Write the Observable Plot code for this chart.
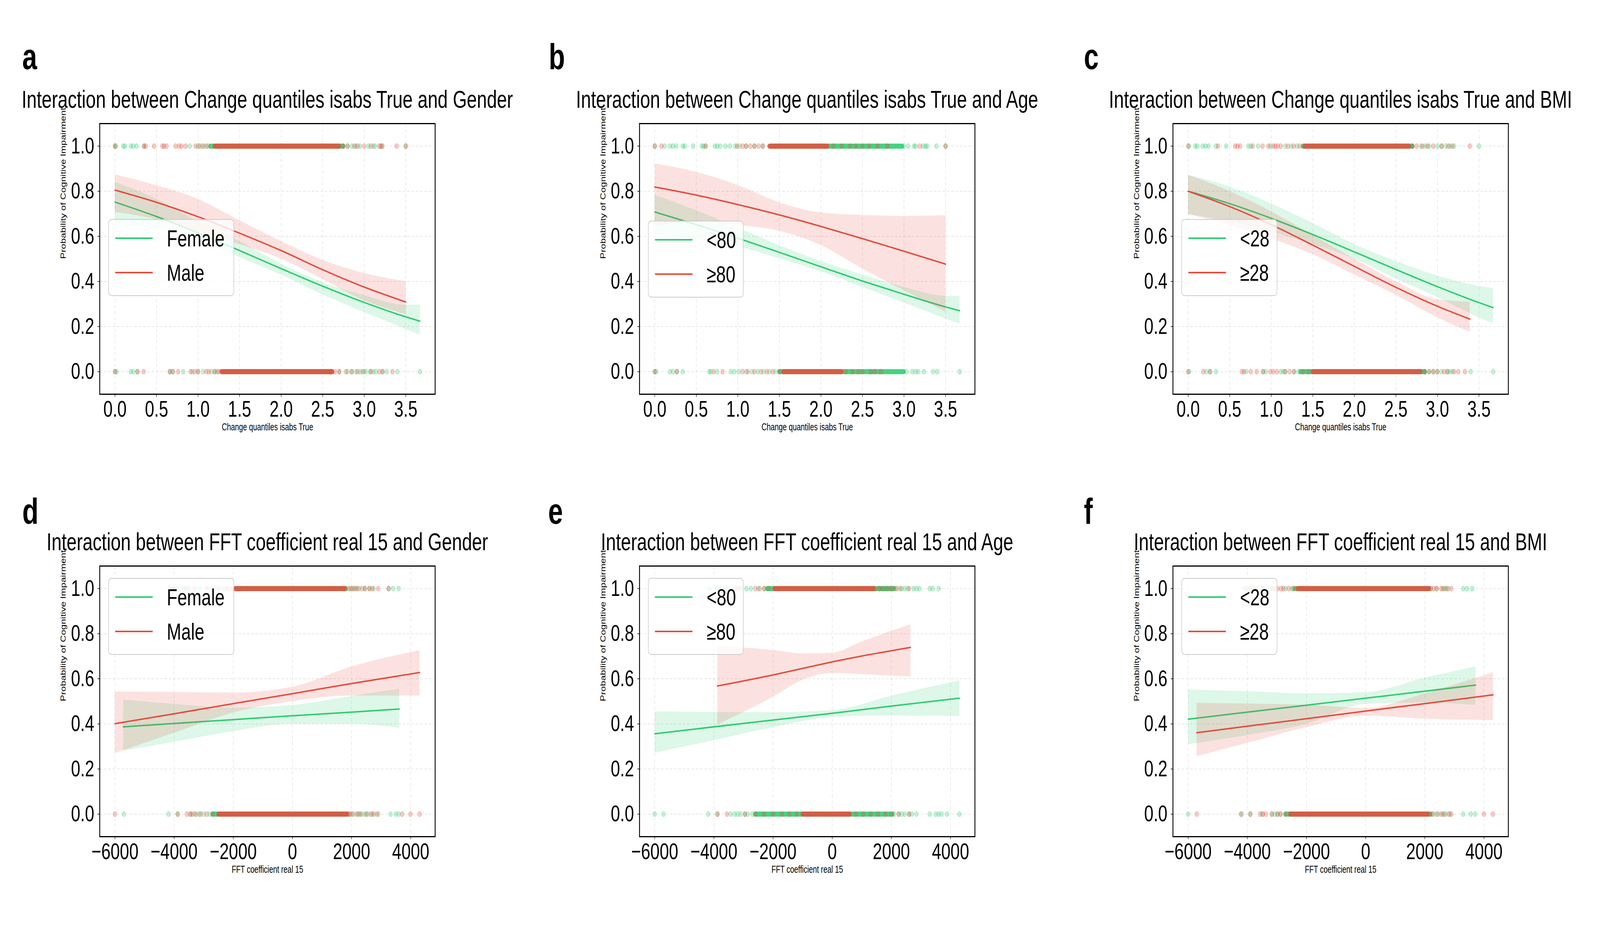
<!DOCTYPE html>
<html><head><meta charset="utf-8">
<script src="https://cdn.jsdelivr.net/npm/d3@7"></script>
<script src="https://cdn.jsdelivr.net/npm/@observablehq/plot@0.6"></script>
<style>
html,body{margin:0;padding:0;background:#fff;overflow:hidden;}
#wrap{position:relative;overflow:hidden;background:#fff;}
#fig{position:absolute;left:0;top:0;width:5543px;height:2402px;overflow:hidden;background:#fff;font-family:"Liberation Sans",Arial,Helvetica,sans-serif;transform-origin:0 0;}
#fig svg.panel{position:absolute;overflow:visible;}
#overlay{position:absolute;left:0;top:0;pointer-events:none;}
</style></head>
<body><div id="wrap"><div id="fig"></div></div>
<script>
// ================= DATA =================
const yTicks = [0, 0.2, 0.4, 0.6, 0.8, 1.0];
const changeTicks = [0, 0.5, 1.0, 1.5, 2.0, 2.5, 3.0, 3.5];
const fftTicks = [-6000, -4000, -2000, 0, 2000, 4000];
const panelLetters = ["a", "b", "c", "d", "e", "f"];
const panelTitles = [
  "Interaction between Change quantiles isabs True and Gender",
  "Interaction between Change quantiles isabs True and Age",
  "Interaction between Change quantiles isabs True and BMI",
  "Interaction between FFT coefficient real 15 and Gender",
  "Interaction between FFT coefficient real 15 and Age",
  "Interaction between FFT coefficient real 15 and BMI"
];
const xAxisLabels = ["Change quantiles isabs True", "FFT coefficient real 15"];
const yAxisLabel = "Probability of Cognitive Impairment";
const genderLabels = ["Female", "Male"];
const ageLabels = ["<80", "\u226580"];
const bmiLabels = ["<28", "\u226528"];

// ---- a: Change quantiles × Gender ----
const a_g_x   = [0, 0.5, 1.0, 1.5, 2.0, 2.5, 3.0, 3.5, 3.67];
const a_g_fit = [0.752, 0.688, 0.615, 0.537, 0.457, 0.379, 0.307, 0.243, 0.224];
const a_g_lo  = [0.647, 0.635, 0.585, 0.507, 0.429, 0.342, 0.263, 0.189, 0.164];
const a_g_hi  = [0.841, 0.765, 0.665, 0.578, 0.478, 0.396, 0.338, 0.296, 0.296];
const a_r_x   = [0, 0.5, 1.0, 1.5, 2.0, 2.5, 3.0, 3.5];
const a_r_fit = [0.805, 0.751, 0.687, 0.614, 0.537, 0.452, 0.375, 0.309];
const a_r_lo  = [0.708, 0.675, 0.62, 0.565, 0.50, 0.41, 0.315, 0.255];
const a_r_hi  = [0.874, 0.826, 0.765, 0.67, 0.578, 0.495, 0.437, 0.40];
const a_g_dots1 = [0, 0.01, 0.1, 0.12, 0.19, 0.22, 0.26, 0.35, 0.9, 1.0, 1.05, 1.1, 2.8, 2.85, 2.9, 2.95, 3.05, 3.11, 3.13, 3.21, 3.5];
const a_g_core1 = [1.15, 2.75];
const a_r_dots1 = [0, 0.35, 0.37, 0.47, 0.57, 0.59, 0.62, 0.73, 0.77, 0.8, 0.85, 0.97, 1.02, 1.07, 1.12, 2.75, 2.8, 2.88, 2.92, 3.0, 3.08, 3.18, 3.2, 3.22, 3.39, 3.5];
const a_r_core1 = [1.2, 2.7];
const a_g_dots0 = [0, 0.02, 0.19, 0.22, 0.27, 0.66, 0.69, 0.82, 0.93, 1.0, 1.06, 1.16, 1.2, 1.25, 2.6, 2.7, 2.8, 2.85, 2.9, 2.95, 3.0, 3.02, 3.07, 3.11, 3.14, 3.22, 3.27, 3.4, 3.67];
const a_g_core0 = [1.3, 2.6];
const a_r_dots0 = [0, 0.27, 0.345, 0.66, 0.7, 0.76, 0.91, 0.96, 1.0, 1.1, 1.13, 1.2, 1.23, 2.6, 2.65, 2.7, 2.78, 2.85, 2.92, 2.98, 3.08, 3.18, 3.22, 3.34];
const a_r_core0 = [1.28, 2.62];

// ---- b: Change quantiles × Age ----
const b_g_x   = [0, 0.5, 1.0, 1.5, 2.0, 2.5, 3.0, 3.5, 3.67];
const b_g_fit = [0.708, 0.652, 0.592, 0.529, 0.465, 0.402, 0.343, 0.287, 0.270];
const b_g_lo  = [0.61, 0.585, 0.555, 0.502, 0.444, 0.375, 0.305, 0.235, 0.212];
const b_g_hi  = [0.784, 0.715, 0.638, 0.56, 0.49, 0.43, 0.375, 0.335, 0.334];
const b_r_x   = [0, 0.5, 1.0, 1.5, 2.0, 2.5, 3.0, 3.5];
const b_r_fit = [0.819, 0.783, 0.741, 0.695, 0.644, 0.59, 0.534, 0.477];
const b_r_lo  = [0.647, 0.665, 0.65, 0.624, 0.56, 0.456, 0.36, 0.265];
const b_r_hi  = [0.922, 0.885, 0.827, 0.75, 0.705, 0.694, 0.69, 0.693];
const b_g_dots1 = [0, 0.117, 0.184, 0.22, 0.259, 0.337, 0.362, 0.461, 0.567, 0.585, 0.613, 0.723, 0.752, 0.787, 0.851, 0.904, 0.968, 1.02, 1.1, 1.2, 1.3, 3.0, 3.05, 3.12, 3.14, 3.23, 3.26, 3.28, 3.39, 3.5];
const b_g_core1 = [1.4, 2.98];
const b_r_dots1 = [0, 0.08, 0.613, 0.99, 1.057, 1.099, 1.15, 1.2, 1.25, 1.3, 2.15, 2.25, 2.35, 2.42, 2.5, 2.58, 2.68, 2.8, 3.19, 3.5];
const b_r_core1 = [1.38, 2.08];
const b_g_dots0 = [0, 0.018, 0.184, 0.22, 0.266, 0.337, 0.656, 0.674, 0.752, 0.915, 0.957, 1.01, 1.1, 1.17, 1.24, 1.31, 1.38, 1.45, 3.03, 3.1, 3.14, 3.17, 3.24, 3.35, 3.4, 3.67];
const b_g_core0 = [1.5, 3.0];
const b_r_dots0 = [0, 0.266, 0.709, 0.816, 1.057, 1.12, 1.2, 1.28, 1.35, 1.42, 1.5, 2.3, 2.38, 2.45, 2.5, 2.6, 2.65, 2.72];
const b_r_core0 = [1.55, 2.25];

// ---- c: Change quantiles × BMI ----
const c_g_x   = [0, 0.5, 1.0, 1.5, 2.0, 2.5, 3.0, 3.5, 3.67];
const c_g_fit = [0.80, 0.745, 0.680, 0.608, 0.531, 0.453, 0.377, 0.306, 0.284];
const c_g_lo  = [0.698, 0.665, 0.62, 0.565, 0.50, 0.412, 0.33, 0.24, 0.215];
const c_g_hi  = [0.872, 0.82, 0.745, 0.658, 0.565, 0.49, 0.425, 0.38, 0.37];
const c_r_x   = [0, 0.5, 1.0, 1.5, 2.0, 2.5, 3.0, 3.39];
const c_r_fit = [0.80, 0.732, 0.652, 0.561, 0.467, 0.374, 0.290, 0.233];
const c_r_lo  = [0.698, 0.65, 0.59, 0.52, 0.43, 0.34, 0.24, 0.176];
const c_r_hi  = [0.872, 0.80, 0.71, 0.605, 0.50, 0.40, 0.32, 0.31];
const c_g_dots1 = [0.01, 0.085, 0.11, 0.174, 0.209, 0.245, 0.334, 0.458, 0.724, 0.753, 0.841, 0.99, 1.168, 1.24, 1.31, 2.7, 2.8, 2.85, 2.9, 3.0, 3.05, 3.1, 3.15, 3.2, 3.5];
const c_g_core1 = [1.38, 2.7];
const c_r_dots1 = [0, 0.359, 0.564, 0.593, 0.625, 0.777, 0.895, 0.966, 1.026, 1.05, 1.08, 1.115, 1.2, 1.27, 1.34, 2.7, 2.75, 2.82, 2.88, 2.95, 3.05, 3.13, 3.18, 3.39];
const c_r_core1 = [1.4, 2.66];
const c_g_dots0 = [0.01, 0.217, 0.263, 0.334, 0.699, 0.902, 0.937, 1.115, 1.14, 1.168, 1.274, 1.328, 2.85, 2.9, 2.95, 3.0, 3.05, 3.12, 3.15, 3.18, 3.4, 3.67];
const c_g_core0 = [1.35, 2.85];
const c_r_dots0 = [0, 0.181, 0.263, 0.646, 0.671, 0.753, 0.824, 0.902, 0.99, 1.026, 1.069, 1.168, 1.221, 1.274, 1.38, 1.45, 2.85, 2.9, 2.95, 3.0, 3.08, 3.12, 3.2, 3.25, 3.33];
const c_r_core0 = [1.5, 2.8];

// ---- d: FFT coefficient × Gender ----
const d_g_x   = [-5722, -4000, -2000, 0, 2000, 3612];
const d_g_fit = [0.387, 0.402, 0.419, 0.436, 0.452, 0.466];
const d_g_lo  = [0.28, 0.32, 0.367, 0.40, 0.40, 0.382];
const d_g_hi  = [0.507, 0.488, 0.471, 0.483, 0.523, 0.555];
const d_r_x   = [-6000, -4000, -2000, 0, 2000, 4300];
const d_r_fit = [0.401, 0.445, 0.490, 0.534, 0.579, 0.628];
const d_r_lo  = [0.27, 0.36, 0.45, 0.50, 0.525, 0.525];
const d_r_hi  = [0.543, 0.541, 0.538, 0.564, 0.654, 0.726];
const d_g_dots1 = [-4160, -3900, -3700, -3500, -3120, -2720, -2320, 1800, 1950, 2050, 2150, 2250, 2450, 2600, 2750, 3250, 3400, 3590];
const d_g_core1 = [-1900, 1800];
const d_r_dots1 = [-4000, -3600, -3300, -2900, -2500, -2200, -2050, 1800, 1900, 2000, 2100, 2200, 2350, 2450, 2600, 2700, 2900, 3250];
const d_r_core1 = [-1950, 1750];
const d_g_dots0 = [-5700, -4190, -3880, -3450, -3300, -3150, -3000, -2800, 1900, 2000, 2150, 2250, 2350, 2450, 2550, 2700, 2850, 3320, 3490, 3590];
const d_g_core0 = [-2700, 1850];
const d_r_dots0 = [-6000, -3880, -3570, -3450, -3380, -3250, -3100, -2900, -2700, 1900, 1950, 2050, 2200, 2300, 2500, 2650, 2750, 2900, 3710, 3990, 4300];
const d_r_core0 = [-2500, 1850];

// ---- e: FFT coefficient × Age ----
const e_g_x   = [-6000, -4000, -2000, 0, 2000, 4300];
const e_g_fit = [0.356, 0.387, 0.417, 0.447, 0.479, 0.514];
const e_g_lo  = [0.271, 0.327, 0.385, 0.43, 0.437, 0.434];
const e_g_hi  = [0.455, 0.452, 0.451, 0.46, 0.524, 0.592];
const e_r_x   = [-3880, -2000, -1000, 0, 1000, 2647];
const e_r_fit = [0.568, 0.617, 0.646, 0.675, 0.701, 0.739];
const e_r_lo  = [0.397, 0.52, 0.595, 0.625, 0.62, 0.609];
const e_r_hi  = [0.745, 0.727, 0.712, 0.715, 0.765, 0.841];
const e_g_dots1 = [-4150, -3900, -3600, -3300, -3100, -2900, -2750, -2500, -2300, 1600, 1750, 1900, 2050, 2200, 2350, 2450, 2550, 2750, 2850, 2950, 3300, 3400, 3600];
const e_g_core1 = [-2200, 2100];
const e_r_dots1 = [-3200, -2600, -2450, -2300, -2150, 1450, 1600, 1700, 1850, 2000, 2150, 2300, 2600];
const e_r_core1 = [-1950, 1400];
const e_g_dots0 = [-6000, -5700, -4190, -3880, -3430, -3300, -3200, -3100, -2950, -2850, -2700, 2100, 2250, 2350, 2450, 2600, 2700, 2850, 3300, 3500, 3600, 3700, 3880, 4300];
const e_g_core0 = [-2600, 2050];
const e_r_dots0 = [-3880, -3560, -2950, -2600, -2300, -2000, -1700, -1450, -1200, 800, 1050, 1300, 1550, 1800, 2000, 2250, 2600];
const e_r_core0 = [-1000, 600];

// ---- f: FFT coefficient × BMI ----
const f_g_x   = [-6000, -4000, -2000, 0, 2000, 3721];
const f_g_fit = [0.421, 0.452, 0.483, 0.514, 0.545, 0.572];
const f_g_lo  = [0.309, 0.35, 0.40, 0.488, 0.494, 0.483];
const f_g_hi  = [0.552, 0.544, 0.535, 0.54, 0.604, 0.654];
const f_r_x   = [-5711, -4000, -2000, 0, 2000, 4310];
const f_r_fit = [0.361, 0.390, 0.423, 0.457, 0.490, 0.529];
const f_r_lo  = [0.256, 0.315, 0.385, 0.436, 0.422, 0.416];
const f_r_hi  = [0.492, 0.489, 0.484, 0.47, 0.535, 0.628];
const f_g_dots1 = [-4100, -3900, -3700, -3500, -3250, -3050, -2700, -2500, 2200, 2400, 2600, 2700, 2800, 3300, 3430, 3600];
const f_g_core1 = [-2400, 2150];
const f_r_dots1 = [-4000, -3800, -3450, -3150, -2970, -2850, -2780, -2600, -2450, 2200, 2300, 2400, 2550, 2650, 2750, 2900];
const f_r_core1 = [-2300, 2150];
const f_g_dots0 = [-6000, -4190, -3900, -3500, -3170, -3070, -2980, -2880, 2300, 2450, 2600, 2700, 2850, 3300, 3550, 3700];
const f_g_core0 = [-2700, 2200];
const f_r_dots0 = [-5710, -4220, -3900, -3570, -3470, -3370, -3170, -2980, -2880, -2730, 2150, 2250, 2400, 2550, 2650, 2800, 2900, 4000, 4300];
const f_r_core0 = [-2550, 2100];

// ================= STYLE / LAYOUT =================
const GREEN = "#2ecc71", RED = "#e74c3c";
const FONT = '"Liberation Sans", Arial, Helvetica, sans-serif';
const FIG_W = 5543, FIG_H = 2402;
const FW = 1162, FH = 693;                 // frame size
const ML = 220, MR = 30, MT = 20, MB = 150; // svg margins
const colLeft = [345, 2215, 4063];
const rowTop = [316, 1449];
const letterPos = [[77, 177], [1901, 177], [3755, 177], [77, 1341], [1899, 1341], [3755, 1341]];

function group(color, xs, fit, lo, hi, dots1, dots0, core1, core0) {
  return {color, xs, fit, lo, hi, dots1, dots0, core1, core0};
}

const panels = [
  {xTicks: changeTicks, xDomain: [-0.1835, 3.8535], fmt: d3.format(".1f"), xLabel: xAxisLabels[0], legend: genderLabels, legendTop: 246, legendW: 434,
   groups: [group(GREEN, a_g_x, a_g_fit, a_g_lo, a_g_hi, a_g_dots1, a_g_dots0, a_g_core1, a_g_core0),
            group(RED, a_r_x, a_r_fit, a_r_lo, a_r_hi, a_r_dots1, a_r_dots0, a_r_core1, a_r_core0)]},
  {xTicks: changeTicks, xDomain: [-0.1835, 3.8535], fmt: d3.format(".1f"), xLabel: xAxisLabels[0], legend: ageLabels, legendTop: 250, legendW: 329,
   groups: [group(GREEN, b_g_x, b_g_fit, b_g_lo, b_g_hi, b_g_dots1, b_g_dots0, b_g_core1, b_g_core0),
            group(RED, b_r_x, b_r_fit, b_r_lo, b_r_hi, b_r_dots1, b_r_dots0, b_r_core1, b_r_core0)]},
  {xTicks: changeTicks, xDomain: [-0.1835, 3.8535], fmt: d3.format(".1f"), xLabel: xAxisLabels[0], legend: bmiLabels, legendTop: 246, legendW: 330,
   groups: [group(GREEN, c_g_x, c_g_fit, c_g_lo, c_g_hi, c_g_dots1, c_g_dots0, c_g_core1, c_g_core0),
            group(RED, c_r_x, c_r_fit, c_r_lo, c_r_hi, c_r_dots1, c_r_dots0, c_r_core1, c_r_core0)]},
  {xTicks: fftTicks, xDomain: [-6515, 4825], fmt: d3.format("d"), xLabel: xAxisLabels[1], legend: genderLabels, legendTop: 32, legendW: 434,
   groups: [group(GREEN, d_g_x, d_g_fit, d_g_lo, d_g_hi, d_g_dots1, d_g_dots0, d_g_core1, d_g_core0),
            group(RED, d_r_x, d_r_fit, d_r_lo, d_r_hi, d_r_dots1, d_r_dots0, d_r_core1, d_r_core0)]},
  {xTicks: fftTicks, xDomain: [-6515, 4825], fmt: d3.format("d"), xLabel: xAxisLabels[1], legend: ageLabels, legendTop: 32, legendW: 329,
   groups: [group(GREEN, e_g_x, e_g_fit, e_g_lo, e_g_hi, e_g_dots1, e_g_dots0, e_g_core1, e_g_core0),
            group(RED, e_r_x, e_r_fit, e_r_lo, e_r_hi, e_r_dots1, e_r_dots0, e_r_core1, e_r_core0)]},
  {xTicks: fftTicks, xDomain: [-6515, 4825], fmt: d3.format("d"), xLabel: xAxisLabels[1], legend: bmiLabels, legendTop: 32, legendW: 330,
   groups: [group(GREEN, f_g_x, f_g_fit, f_g_lo, f_g_hi, f_g_dots1, f_g_dots0, f_g_core1, f_g_core0),
            group(RED, f_r_x, f_r_fit, f_r_lo, f_r_hi, f_r_dots1, f_r_dots0, f_r_core1, f_r_core0)]}
];

const wrap = document.getElementById("wrap");
const fig = document.getElementById("fig");
// The browser may give a viewport narrower than 5543 px (e.g. 4096 x 2402):
// map the 5543 x 2402 figure onto the whole viewport so the photo matches the reference frame.
const vw = window.innerWidth || document.documentElement.clientWidth || FIG_W;
const vh = window.innerHeight || document.documentElement.clientHeight || FIG_H;
const sx = Math.min(1, vw / FIG_W), sy = Math.min(1, vh / FIG_H);
fig.style.transform = `scale(${sx}, ${sy})`;
wrap.style.width = (FIG_W * sx) + "px";
wrap.style.height = (FIG_H * sy) + "px";

function makePanel(p) {
  const marks = [
    Plot.gridX(p.xTicks, {stroke: "#b0b0b0", strokeOpacity: 0.4, strokeWidth: 1.5, strokeDasharray: "9,6"}),
    Plot.gridY(yTicks, {stroke: "#b0b0b0", strokeOpacity: 0.4, strokeWidth: 1.5, strokeDasharray: "9,6"})
  ];
  for (const g of p.groups) {
    const dots = [...g.dots1.map(x => ({x, y: 1})), ...g.dots0.map(x => ({x, y: 0}))];
    const cores = [{x1: g.core1[0], x2: g.core1[1], y: 1}, {x1: g.core0[0], x2: g.core0[1], y: 0}];
    const rows = g.xs.map((x, i) => ({x, fit: g.fit[i], lo: g.lo[i], hi: g.hi[i]}));
    marks.push(
      Plot.ruleY(cores, {y: "y", x1: "x1", x2: "x2", stroke: g.color, strokeWidth: 13, strokeLinecap: "round", strokeOpacity: 0.88}),
      Plot.dot(dots, {x: "x", y: "y", r: 6.5, fill: g.color, fillOpacity: 0.28, stroke: g.color, strokeOpacity: 0.45, strokeWidth: 1.2}),
      Plot.lineY(rows, {x: "x", y: "fit", stroke: g.color, strokeWidth: 3.8, curve: "monotone-x"}),
      Plot.areaY(rows, {x: "x", y1: "lo", y2: "hi", fill: g.color, fillOpacity: 0.16, curve: "monotone-x"})
    );
  }
  marks.push(
    Plot.axisX(p.xTicks, {tickSize: 7, tickPadding: 9, tickFormat: p.fmt, label: null, fontSize: 58, strokeWidth: 1.5}),
    Plot.axisY(yTicks, {tickSize: 7, tickPadding: 12, tickFormat: d3.format(".1f"), label: null, fontSize: 58, strokeWidth: 1.5}),
    Plot.text([yAxisLabel], {frameAnchor: "left", dx: -126, rotate: -90, fontSize: 25, text: d => d, fill: "black"}),
    Plot.text([p.xLabel], {frameAnchor: "bottom", dy: 92, fontSize: 25, text: d => d, fill: "black"}),
    Plot.frame({stroke: "black", strokeWidth: 3})
  );
  return Plot.plot({
    width: FW + ML + MR, height: FH + MT + MB,
    marginLeft: ML, marginRight: MR, marginTop: MT, marginBottom: MB,
    x: {domain: p.xDomain, label: null},
    y: {domain: [-0.1, 1.1], label: null},
    style: {fontFamily: FONT, fontSize: "58px", color: "black", background: "transparent", overflow: "visible"},
    marks
  });
}

panels.forEach((p, i) => {
  const left = colLeft[i % 3], top = rowTop[Math.floor(i / 3)];
  const svg = makePanel(p);
  svg.classList.add("panel");
  svg.style.left = (left - ML) + "px";
  svg.style.top = (top - MT) + "px";
  fig.appendChild(svg);
});

// overlay: panel letters, titles, legends
const ov = d3.select(fig).append("svg").attr("id", "overlay")
  .attr("width", FIG_W).attr("height", FIG_H).style("font-family", FONT);

panels.forEach((p, i) => {
  const left = colLeft[i % 3], top = rowTop[Math.floor(i / 3)];
  ov.append("text").attr("x", letterPos[i][0]).attr("y", letterPos[i][1])
    .attr("font-size", 92).attr("font-weight", "bold").text(panelLetters[i]);
  ov.append("text").attr("x", left + FW / 2).attr("y", top - 40)
    .attr("text-anchor", "middle").attr("font-size", 62.5).text(panelTitles[i]);
  const bx = left + 31, by = top + p.legendTop;
  ov.append("rect").attr("x", bx).attr("y", by).attr("width", p.legendW).attr("height", 195)
    .attr("rx", 10).attr("fill", "white").attr("fill-opacity", 0.8)
    .attr("stroke", "#cccccc").attr("stroke-width", 2);
  p.groups.forEach((g, k) => {
    const ly = by + 48 + k * 88;
    ov.append("line").attr("x1", bx + 23).attr("x2", bx + 153).attr("y1", ly).attr("y2", ly)
      .attr("stroke", g.color).attr("stroke-width", 4);
    ov.append("text").attr("x", bx + 202).attr("y", ly + 21).attr("font-size", 60).text(p.legend[k]);
  });
});
</script>
</body></html>
